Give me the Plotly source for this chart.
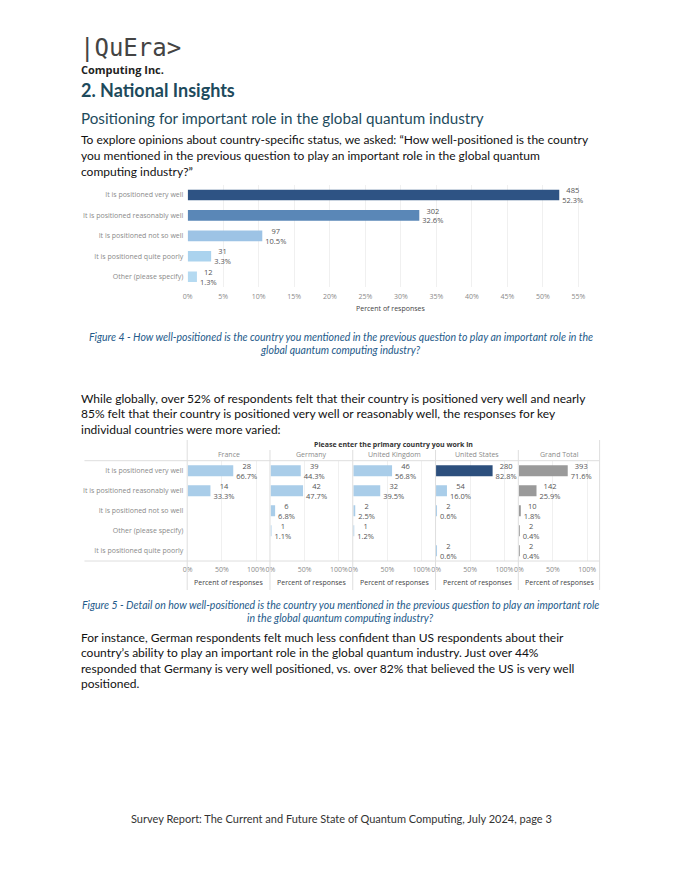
import plotly.graph_objects as go

# page is rendered with an 8px body margin, so the figure is 8px smaller and offset
W, H = 672, 872
OX, OY = 8, 8

# ---------------- data ----------------
fig4_categories = ["It is positioned very well", "It is positioned reasonably well",
                   "It is positioned not so well", "It is positioned quite poorly",
                   "Other (please specify)"]
fig4_counts = [485, 302, 97, 31, 12]
fig4_pcts = [52.3, 32.6, 10.5, 3.3, 1.3]
fig4_colors = ["#2e5384", "#5a87b7", "#9dc3e5", "#abd3ee", "#b5daf1"]
fig4_ticks = [0, 5, 10, 15, 20, 25, 30, 35, 40, 45, 50, 55]

fig5_categories = ["It is positioned very well", "It is positioned reasonably well",
                   "It is positioned not so well", "Other (please specify)",
                   "It is positioned quite poorly"]
fig5_countries = ["France", "Germany", "United Kingdom", "United States", "Grand Total"]
france_counts = [28, 14, None, None, None]
france_pcts = [66.7, 33.3, None, None, None]
germany_counts = [39, 42, 6, 1, None]
germany_pcts = [44.3, 47.7, 6.8, 1.1, None]
uk_counts = [46, 32, 2, 1, None]
uk_pcts = [56.8, 39.5, 2.5, 1.2, None]
us_counts = [280, 54, 2, None, 2]
us_pcts = [82.8, 16.0, 0.6, None, 0.6]
total_counts = [393, 142, 10, 2, 2]
total_pcts = [71.6, 25.9, 1.8, 0.4, 0.4]
fig5_ticks = [0, 50, 100]

light = "#a9cde9"
fig5_colors = {
    "France": [light] * 5,
    "Germany": [light] * 5,
    "United Kingdom": [light] * 5,
    "United States": ["#2c4f7d", light, light, light, light],
    "Grand Total": ["#9a9a9a"] * 5,
}
fig5_data = {
    "France": (france_counts, france_pcts),
    "Germany": (germany_counts, germany_pcts),
    "United Kingdom": (uk_counts, uk_pcts),
    "United States": (us_counts, us_pcts),
    "Grand Total": (total_counts, total_pcts),
}

# ---------------- helpers ----------------
def py(p):
    return 1 - (p - OY) / H

def px(p):
    return (p - OX) / W

def label(c, p):
    if c is None:
        return ""
    return f"{c}<br>{p:.1f}%"

TICKFONT = dict(family="Open Sans", size=7, color="#8a8a8a")
TEXTFONT = dict(family="Open Sans", size=7.5, color="#555555")
BODY = "Lato"
HEAD_COL = "#1d4a5c"
CAP_COL = "#245a8a"

fig = go.Figure()

# ---------------- Figure 4 ----------------
fig.add_trace(go.Bar(
    y=fig4_categories, x=fig4_pcts, orientation="h",
    marker=dict(color=fig4_colors, line=dict(width=0)),
    text=[label(c, p) for c, p in zip(fig4_counts, fig4_pcts)],
    textposition="outside", textfont=TEXTFONT, cliponaxis=False, constraintext="none",
    width=0.52, xaxis="x", yaxis="y", showlegend=False, hoverinfo="skip",
))

layout = dict(
    width=W, height=H, margin=dict(l=0, r=0, t=0, b=0),
    paper_bgcolor="white", plot_bgcolor="white",
    xaxis=dict(domain=[px(184), px(592)], range=[0, 57], anchor="y",
               tickvals=fig4_ticks, ticktext=[f"{t}%" for t in fig4_ticks],
               tickfont=TICKFONT, showgrid=True, gridcolor="#f0f0f0", gridwidth=1,
               zeroline=False, showline=False, ticks="outside", ticklen=3,
               tickcolor="rgba(0,0,0,0)", fixedrange=True),
    yaxis=dict(domain=[py(286.9), py(184.8)], anchor="x", autorange="reversed",
               tickfont=TICKFONT, showgrid=False, zeroline=False, showline=False,
               ticks="outside", ticklen=2, tickcolor="rgba(0,0,0,0)",
               categoryorder="array", categoryarray=fig4_categories),
    yaxis2=dict(domain=[py(560.7), py(460.7)], anchor="x2", autorange="reversed",
                tickfont=TICKFONT, showgrid=False, zeroline=False, showline=False,
                ticks="outside", ticklen=2, tickcolor="rgba(0,0,0,0)",
                categoryorder="array", categoryarray=fig5_categories),
)

# ---------------- Figure 5 ----------------
panel_starts = [184 + 83.4 * i for i in range(5)]
panel_w = 82.6
for i, country in enumerate(fig5_countries):
    xname = f"x{i + 2}"
    axkey = f"xaxis{i + 2}"
    counts, pcts = fig5_data[country]
    fig.add_trace(go.Bar(
        y=fig5_categories, x=pcts, orientation="h",
        marker=dict(color=fig5_colors[country], line=dict(width=0)),
        text=[label(c, p) for c, p in zip(counts, pcts)],
        textposition="outside", textfont=TEXTFONT, cliponaxis=False, constraintext="none",
        width=0.55, xaxis=xname, yaxis="y2", showlegend=False, hoverinfo="skip",
    ))
    layout[axkey] = dict(
        domain=[px(panel_starts[i]), px(panel_starts[i] + panel_w)], range=[0, 120],
        anchor="y2", tickvals=fig5_ticks, ticktext=[f"{t}%" for t in fig5_ticks],
        tickfont=TICKFONT, showgrid=True, gridcolor="#f0f0f0", zeroline=False,
        showline=False, ticks="outside", ticklen=2, tickcolor="rgba(0,0,0,0)",
    )

fig.update_layout(**layout)

annotations = []
shapes = []

def text(x, y, s, size, color, family=BODY, xanchor="left", bold=False, italic=False):
    if bold:
        s = f"<b>{s}</b>"
    if italic:
        s = f"<i>{s}</i>"
    annotations.append(dict(x=px(x), y=py(y), xref="paper", yref="paper", text=s,
                            showarrow=False, xanchor=xanchor, yanchor="middle",
                            font=dict(family=family, size=size, color=color)))

# axis titles
text(388, 308, "Percent of responses", 7, "#444444", family="Open Sans", xanchor="center")
for i in range(5):
    text(panel_starts[i] + panel_w / 2, 582, "Percent of responses", 7, "#444444",
         family="Open Sans", xanchor="center")
    text(panel_starts[i] + panel_w / 2, 455, fig5_countries[i], 7, "#8a8a8a",
         family="Open Sans", xanchor="center")
text(391, 444, "Please enter the primary country you work in", 7, "#333333",
     family="Open Sans", xanchor="center", bold=True)

# lines of figure 5
LINE = "#dedede"
for yy in [460.7, 561]:
    shapes.append(dict(type="line", xref="paper", yref="paper", x0=px(80), x1=px(599),
                       y0=py(yy), y1=py(yy), line=dict(color=LINE, width=1)))
shapes.append(dict(type="line", xref="paper", yref="paper", x0=px(183.5), x1=px(183.5),
                   y0=py(440), y1=py(590), line=dict(color=LINE, width=1)))
shapes.append(dict(type="line", xref="paper", yref="paper", x0=px(599), x1=px(599),
                   y0=py(440), y1=py(590), line=dict(color=LINE, width=1)))
for i in range(1, 5):
    xx = panel_starts[i] - 0.5
    shapes.append(dict(type="line", xref="paper", yref="paper", x0=px(xx), x1=px(xx),
                       y0=py(450), y1=py(590), line=dict(color=LINE, width=1)))

# page text
LX = 74
text(LX - 1, 48, "|QuEra>", 24, "#444444", family="DejaVu Sans Mono")
text(LX, 69, "Computing Inc.", 11, "#222222", family="Open Sans", bold=True)
text(LX, 90, "2. National Insights", 18, HEAD_COL, family=BODY, bold=True)
text(LX, 118, "Positioning for important role in the global quantum industry", 15.2, HEAD_COL)

body1 = ["To explore opinions about country-specific status, we asked: \u201cHow well-positioned is the country",
         "you mentioned in the previous question to play an important role in the global quantum",
         "computing industry?\u201d"]
for k, s in enumerate(body1):
    text(LX, 140 + 15.6 * k, s, 12, "#111111")

cap4 = ["Figure 4 - How well-positioned is the country you mentioned in the previous question to play an important role in the",
        "global quantum computing industry?"]
for k, s in enumerate(cap4):
    text(338, 337 + 13 * k, s, 10.5, CAP_COL, xanchor="center", italic=True)

body2 = ["While globally, over 52% of respondents felt that their country is positioned very well and nearly",
         "85% felt that their country is positioned very well or reasonably well, the responses for key",
         "individual countries were more varied:"]
for k, s in enumerate(body2):
    text(LX, 398 + 15.6 * k, s, 12, "#111111")

cap5 = ["Figure 5 - Detail on how well-positioned is the country you mentioned in the previous question to play an important role",
        "in the global quantum computing industry?"]
for k, s in enumerate(cap5):
    text(338, 605 + 13 * k, s, 10.5, CAP_COL, xanchor="center", italic=True)

body3 = ["For instance, German respondents felt much less confident than US respondents about their",
         "country\u2019s ability to play an important role in the global quantum industry. Just over 44%",
         "responded that Germany is very well positioned, vs. over 82% that believed the US is very well",
         "positioned."]
for k, s in enumerate(body3):
    text(LX, 637 + 15.6 * k, s, 12, "#111111")

text(339, 818, "Survey Report: The Current and Future State of Quantum Computing, July 2024, page 3",
     11, "#333333", xanchor="center")

fig.update_layout(annotations=annotations, shapes=shapes)
fig.write_html("out.html")
